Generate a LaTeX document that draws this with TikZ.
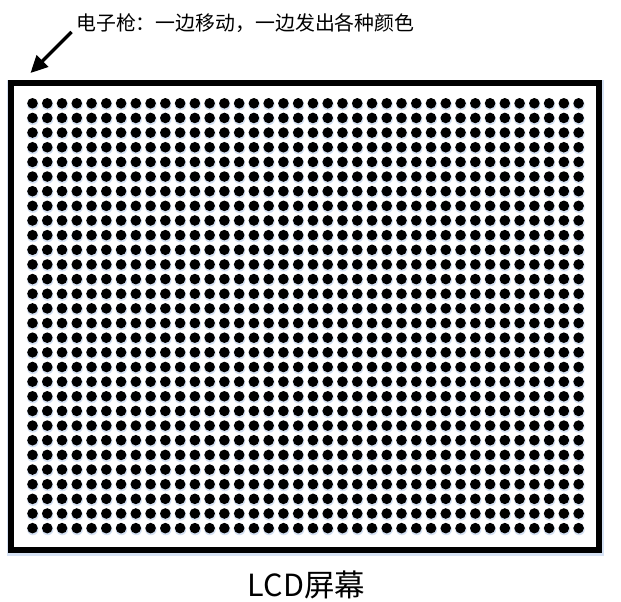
\documentclass[tikz,border=0pt]{standalone}
\usepackage{fontspec}
\setmainfont{Noto Sans CJK SC}
\usetikzlibrary{arrows.meta}
\definecolor{glow}{RGB}{214,226,244}
\begin{document}
\begin{tikzpicture}[x=1pt,y=-1pt,
  screenbox/.style={draw=black, line width=6pt, minimum width=588pt, minimum height=467pt, inner sep=0pt, fill=white},
  pixeldot/.style={fill=black},
  dotshadow/.style={fill=glow},
  gunarrow/.style={line width=3.2pt, -{Triangle[length=17pt,width=16pt]}},
  toplabel/.style={inner sep=0pt, anchor=west, font=\fontsize{19.9}{23}\selectfont},
  bottomlabel/.style={inner sep=0pt, font=\fontsize{30.5}{35}\selectfont}]
\useasboundingbox (0,0) rectangle (621,602);
% soft glow of the frame
\draw[glow, line width=9pt] (11,84.5) rectangle (599,551.5);
\node[screenbox] (screen) at (305,316.5) {};
% pixel grid
\foreach \i in {0,...,37}{
  \foreach \j in {0,...,29}{
    \fill[dotshadow] (32.5+\i*14.76+0.4, 103.3+\j*14.65+1.4) circle (5.7);
  }
}
\foreach \i in {0,...,37}{
  \foreach \j in {0,...,29}{
    \fill[pixeldot] (32.5+\i*14.76, 103.3+\j*14.65) circle (5.3);
  }
}
\node[toplabel] (gunlabel) at (76,23.5) {电子枪：一边移动，一边发出各种颜色};
\coordinate (guntail) at (71.5,32);
\coordinate (guntip) at (30.5,73);
\draw[gunarrow] (guntail) -- (guntip);
\node[bottomlabel] (screenlabel) at (306.5,585) {LCD屏幕};
\end{tikzpicture}
\end{document}
